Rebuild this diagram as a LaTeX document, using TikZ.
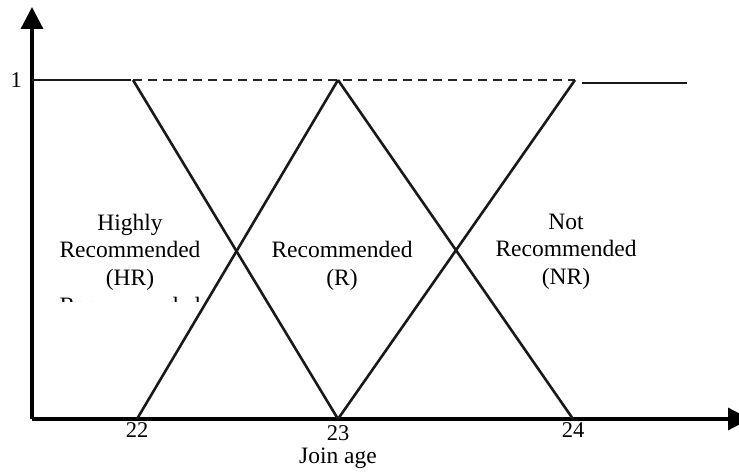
\documentclass[tikz,border=0pt]{standalone}
\usepackage{fontspec}
\setmainfont{Liberation Serif}
\usetikzlibrary{arrows.meta}
\tikzset{
  axis/.style={line width=3.2pt, draw=black, -{Triangle[length=22pt,width=22pt]}},
  fn/.style={line width=2.6pt, draw=black!90},
  fndash/.style={line width=2.6pt, draw=black!85, dash pattern=on 9pt off 6pt},
  lbl/.style={font=\fontsize{23.5}{27}\selectfont, align=center, inner sep=0pt, text=black},
  tick/.style={font=\fontsize{22.5}{26}\selectfont, inner sep=0pt, text=black}
}
\begin{document}
\begin{tikzpicture}[x=1pt,y=-1pt]
\useasboundingbox (0,0) rectangle (739,473);
\clip (0,0) rectangle (739,473);
% key points
\coordinate (o) at (32,419);
\coordinate (ytop) at (32,7);
\coordinate (xend) at (750,419);
\coordinate (y1) at (32,80);
\coordinate (t22) at (133,80);
\coordinate (t23) at (338,80);
\coordinate (t24) at (575,80);
\coordinate (p22) at (137,419);
\coordinate (p23) at (338,419);
\coordinate (p24) at (573,419);
\coordinate (r1) at (582,83);
\coordinate (r2) at (687,83);
% axes
\draw[axis] (o) -- (ytop);
\draw[axis] (o) -- (xend);
% membership functions
\draw[fn] (y1) -- (131,80);
\draw[fndash] (t22) -- (t24);
\draw[fn] (t22) -- (p23);
\draw[fn] (p22) -- (t23);
\draw[fn] (t23) -- (p24);
\draw[fn] (p23) -- (t24);
\draw[fn] (r1) -- (r2);
% labels
\node[tick, anchor=east] (one) at (22,80) {1};
\node[tick, anchor=base] (l22) at (137,437) {22};
\node[tick, anchor=base] (l23) at (338,440) {23};
\node[tick, anchor=base] (l24) at (573,437) {24};
\node[lbl, anchor=base] (xlab) at (338,463) {Join age};
\node[lbl, anchor=base] (hr1) at (130,231) {Highly};
\node[lbl, anchor=base] (hr2) at (130,258) {Recommended};
\node[lbl, anchor=base] (hr3) at (130,285) {(HR)};
\node[lbl, anchor=base] (r1t) at (342,258) {Recommended};
\node[lbl, anchor=base] (r2t) at (342,285) {(R)};
\node[lbl, anchor=base] (nr1) at (566,230) {Not};
\node[lbl, anchor=base] (nr2) at (566,257) {Recommended};
\node[lbl, anchor=base] (nr3) at (566,284) {(NR)};
% cut-off fragment below (HR)
\begin{scope}
\clip (40,295.5) rectangle (225,301);
\node[lbl, anchor=base] (frag) at (130,313) {Recommended};
\end{scope}
\end{tikzpicture}
\end{document}
